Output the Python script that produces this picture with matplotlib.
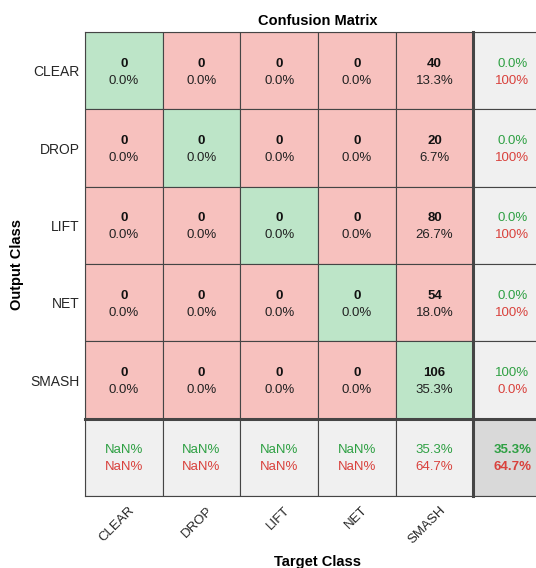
import numpy as np
import matplotlib.pyplot as plt
from matplotlib.patches import Rectangle

plt.rcParams['font.family'] = ['Liberation Sans', 'DejaVu Sans']

# Confusion matrix data (rows = output class, cols = target class)
classes = ['CLEAR', 'DROP', 'LIFT', 'NET', 'SMASH']
counts = np.array([
    [0, 0, 0, 0, 40],
    [0, 0, 0, 0, 20],
    [0, 0, 0, 0, 80],
    [0, 0, 0, 0, 54],
    [0, 0, 0, 0, 106],
])

n = len(classes)
total = counts.sum()

green_bg = '#bde5c8'
red_bg = '#f7c1be'
gray_bg = '#f0f0f0'
corner_bg = '#d9d9d9'
green_txt = '#2ea043'
red_txt = '#d9413c'


def pct(v):
    if np.isnan(v):
        return 'NaN%'
    if v >= 99.95:
        return '100%'
    return f'{v:.1f}%'


fig = plt.figure(figsize=(5.36, 5.68), dpi=100)
W, H = 536, 568
left, right, top, bottom = 85, 551, 32, 496
ax = fig.add_axes([left / W, 1 - bottom / H, (right - left) / W, (bottom - top) / H])
ax.set_xlim(0, n + 1)
ax.set_ylim(n + 1, 0)

for i in range(n + 1):
    for j in range(n + 1):
        if i < n and j < n:
            c = green_bg if i == j else red_bg
        elif i == n and j == n:
            c = corner_bg
        else:
            c = gray_bg
        ax.add_patch(Rectangle((j, i), 1, 1, facecolor=c, edgecolor='#454545', lw=0.8))

fs = 9.5
y1, y2 = 0.41, 0.63

# main cells
for i in range(n):
    for j in range(n):
        ax.text(j + 0.5, i + y1, str(counts[i, j]), ha='center', va='center',
                fontsize=fs, fontweight='bold', color='#111111')
        ax.text(j + 0.5, i + y2, pct(100 * counts[i, j] / total), ha='center', va='center',
                fontsize=fs, color='#222222')

# row summaries (precision)
for i in range(n):
    rs = counts[i].sum()
    p = 100 * counts[i, i] / rs if rs else np.nan
    ax.text(n + 0.5, i + y1, pct(p), ha='center', va='center', fontsize=fs, color=green_txt)
    ax.text(n + 0.5, i + y2, pct(100 - p), ha='center', va='center', fontsize=fs, color=red_txt)

# column summaries (recall)
for j in range(n):
    cs = counts[:, j].sum()
    r = 100 * counts[j, j] / cs if cs else np.nan
    ax.text(j + 0.5, n + y1, pct(r), ha='center', va='center', fontsize=fs, color=green_txt)
    ax.text(j + 0.5, n + y2, pct(100 - r) if not np.isnan(r) else 'NaN%',
            ha='center', va='center', fontsize=fs, color=red_txt)

acc = 100 * np.trace(counts) / total
ax.text(n + 0.5, n + y1, pct(acc), ha='center', va='center', fontsize=fs,
        fontweight='bold', color=green_txt)
ax.text(n + 0.5, n + y2, pct(100 - acc), ha='center', va='center', fontsize=fs,
        fontweight='bold', color=red_txt)

# thick separators
ax.plot([0, n + 1], [n, n], color='#454545', lw=2.2, clip_on=False)
ax.plot([n, n], [0, n + 1], color='#454545', lw=2.2, clip_on=False)
for s in ax.spines.values():
    s.set_color('#454545')
    s.set_linewidth(0.8)

ax.set_xticks(np.arange(n) + 0.56)
ax.set_xticklabels(classes, rotation=45, ha='right', va='top', rotation_mode='anchor',
                   fontsize=fs, color='#262626')
ax.set_yticks(np.arange(n) + 0.5)
ax.set_yticklabels(classes, fontsize=10, color='#262626')
ax.tick_params(length=0)
ax.tick_params(axis='y', pad=4)
ax.tick_params(axis='x', pad=6)

ax.set_title('Confusion Matrix', fontsize=10.5, fontweight='bold', pad=5)
ax.set_xlabel('Target Class', fontsize=10.5, fontweight='bold', labelpad=6)
ax.set_ylabel('Output Class', fontsize=10.5, fontweight='bold')
ax.yaxis.set_label_coords(-0.131, 0.5)

fig.savefig('out.png', dpi=100)
